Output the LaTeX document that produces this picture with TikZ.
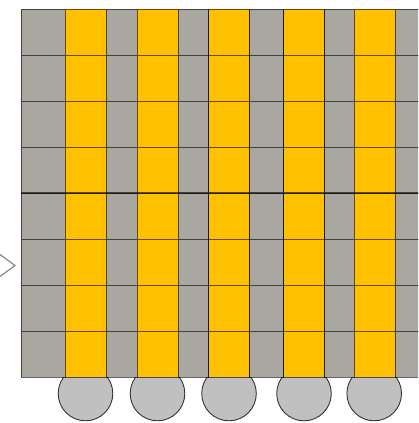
\documentclass[tikz,border=0pt]{standalone}
\usepackage{tikz}
\definecolor{cellgray}{HTML}{AAA6A0}
\definecolor{cellyellow}{HTML}{FFC000}
\definecolor{padgray}{HTML}{C0C0C0}
\tikzset{
  graycell/.style={fill=cellgray,draw=black,draw opacity=0.6,line width=0.9pt},
  yellowcell/.style={fill=cellyellow,draw=black,draw opacity=0.6,line width=0.9pt},
  pad/.style={fill=padgray,draw=black!80,line width=0.9pt},
  chevron/.style={draw=black!50,line width=1.1pt},
}
\begin{document}
\begin{tikzpicture}[x=1pt,y=-1pt]
\useasboundingbox (0,0) rectangle (418,423);
\begin{scope}
\clip (0,0) rectangle (418,423);
% pads under yellow columns
\foreach \cx in {85.5,157.5,229,304,374.2}
  \draw[pad] (\cx,393.5) circle (27.3);
% cells
\def\xs{21/65/graycell,65/106/yellowcell,106/137/graycell,137/178/yellowcell,178/208.5/graycell,208.5/249.5/yellowcell,249.5/283.5/graycell,283.5/324.5/yellowcell,324.5/354/graycell,354/395/yellowcell,395/425/graycell}
\foreach \r in {0,...,7}{
  \foreach \a/\b/\s in \xs {
    \draw[\s] (\a,{9+46*\r}) rectangle (\b,{9+46*(\r+1)});
  }
}
\draw[black,draw opacity=0.6,line width=1.8pt] (21,193) -- (425,193);
\end{scope}
\draw[chevron] (0,254.5) -- (15,265.5) -- (0,276.5);
\end{tikzpicture}
\end{document}
